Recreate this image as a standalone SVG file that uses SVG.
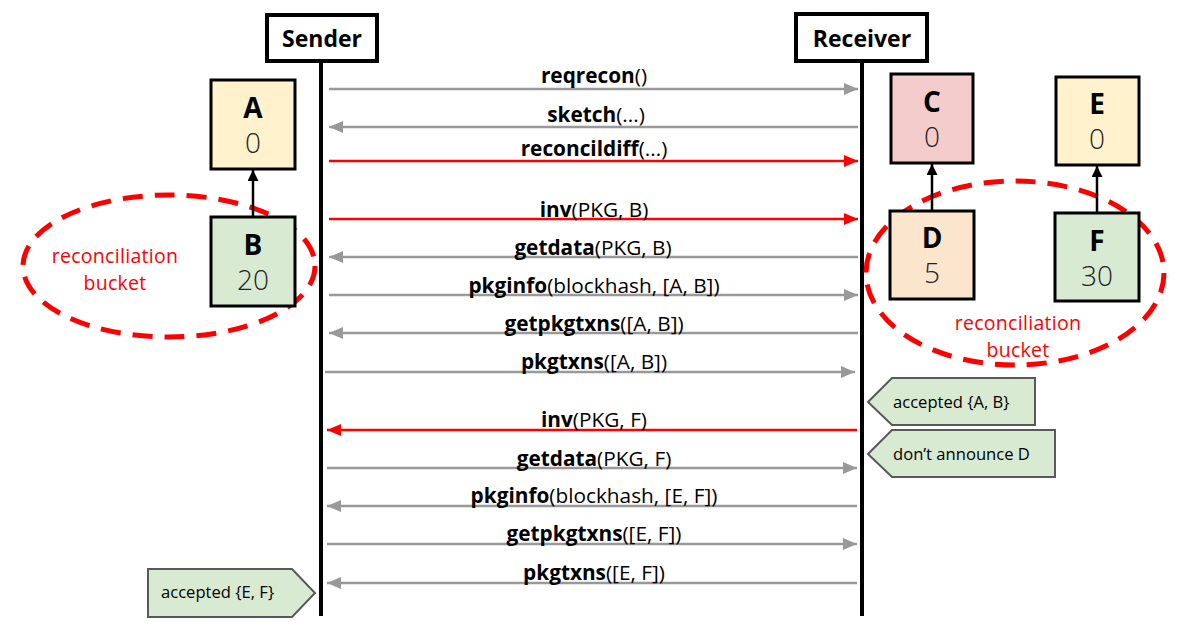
<svg xmlns="http://www.w3.org/2000/svg" width="1199" height="624" viewBox="0 0 1199 624">
<style>
  text { font-family: "Open Sans", "Noto Sans", "Liberation Sans", sans-serif; }
  .actor rect { fill: #fff; stroke: #000; stroke-width: 4; }
  .actor text { font-size: 23px; font-weight: bold; text-anchor: middle; }
  .life { stroke: #000; stroke-width: 4; }
  .node rect { stroke: #000; stroke-width: 3; }
  .nl { font-size: 28px; font-weight: bold; text-anchor: middle; }
  .nv { font-size: 28px; font-weight: 300; text-anchor: middle; fill: #222; }
  .dep { stroke: #000; stroke-width: 2.5; marker-end: url(#hb); }
  .msg { font-size: 20.8px; text-anchor: middle; fill: #000; }
  .msg tspan.b { font-weight: bold; }
  .g { stroke: #999; stroke-width: 2.5; fill: none; marker-end: url(#hg); }
  .r { stroke: #f00; stroke-width: 2.5; fill: none; marker-end: url(#hr); }
  .bucket { fill: none; stroke: #f00; stroke-width: 5; stroke-dasharray: 20 12; }
  .bt { font-size: 19.5px; letter-spacing: 0.3px; fill: #f00; text-anchor: middle; }
  .call path { fill: #d9ead3; stroke: #595959; stroke-width: 2; }
  .call text { font-size: 16.6px; fill: #000; }
</style>
<defs>
  <marker id="hg" viewBox="0 0 14 12" refX="14" refY="6" markerWidth="14" markerHeight="12" markerUnits="userSpaceOnUse" orient="auto">
    <path d="M0,0 L14,6 L0,12 z" fill="#999"/>
  </marker>
  <marker id="hr" viewBox="0 0 14 12" refX="14" refY="6" markerWidth="14" markerHeight="12" markerUnits="userSpaceOnUse" orient="auto">
    <path d="M0,0 L14,6 L0,12 z" fill="#f00"/>
  </marker>
  <marker id="hb" viewBox="0 0 12 12" refX="12" refY="6" markerWidth="12" markerHeight="11" markerUnits="userSpaceOnUse" orient="auto">
    <path d="M0,0 L12,6 L0,12 z" fill="#000"/>
  </marker>
</defs>

<g id="sender" class="actor">
  <rect x="267" y="15" width="110" height="46"/>
  <text x="322" y="47">Sender</text>
</g>
<g id="receiver" class="actor">
  <rect x="796" y="14" width="131" height="47"/>
  <text x="862" y="47">Receiver</text>
</g>
<g id="lifelines">
  <line class="life" x1="321" y1="61" x2="321" y2="616"/>
  <line class="life" x1="862" y1="61" x2="862" y2="616"/>
</g>

<g id="bucket-left">
  <ellipse class="bucket" cx="169" cy="266" rx="146" ry="71"/>
  <text class="bt" x="115" y="263">reconciliation</text>
  <text class="bt" x="115" y="290">bucket</text>
</g>
<g id="bucket-right">
  <ellipse class="bucket" cx="1015" cy="273" rx="149" ry="92"/>
  <text class="bt" x="1018" y="330">reconciliation</text>
  <text class="bt" x="1018" y="357">bucket</text>
</g>

<g id="node-A" class="node">
  <rect x="211" y="80" width="84" height="89" fill="#fff2cc"/>
  <text class="nl" x="253" y="118">A</text>
  <text class="nv" x="253" y="153">0</text>
</g>
<g id="node-B" class="node">
  <rect x="211" y="217" width="84" height="89" fill="#d9ead3"/>
  <text class="nl" x="253" y="255">B</text>
  <text class="nv" x="253" y="290">20</text>
</g>
<g id="node-C" class="node">
  <rect x="891" y="74" width="82" height="89" fill="#f4cccc"/>
  <text class="nl" x="932" y="112">C</text>
  <text class="nv" x="932" y="147">0</text>
</g>
<g id="node-E" class="node">
  <rect x="1056" y="77" width="83" height="88" fill="#fff2cc"/>
  <text class="nl" x="1097" y="114">E</text>
  <text class="nv" x="1097" y="149">0</text>
</g>
<g id="node-D" class="node">
  <rect x="890" y="211" width="84" height="88" fill="#fce5cd"/>
  <text class="nl" x="932" y="248">D</text>
  <text class="nv" x="932" y="283">5</text>
</g>
<g id="node-F" class="node">
  <rect x="1055" y="213" width="84" height="88" fill="#d9ead3"/>
  <text class="nl" x="1097" y="251">F</text>
  <text class="nv" x="1097" y="286">30</text>
</g>

<g id="connectors">
  <line class="dep" x1="253" y1="216" x2="253" y2="170"/>
  <line class="dep" x1="932" y1="210" x2="932" y2="164"/>
  <line class="dep" x1="1097" y1="212" x2="1097" y2="166"/>

  <line class="g" x1="329" y1="89" x2="858" y2="89"/>
  <line class="g" x1="858" y1="127" x2="329" y2="127"/>
  <line class="r" x1="329" y1="161" x2="858" y2="161"/>
  <line class="r" x1="329" y1="219" x2="858" y2="219"/>
  <line class="g" x1="858" y1="257" x2="329" y2="257"/>
  <line class="g" x1="329" y1="295" x2="858" y2="295"/>
  <line class="g" x1="858" y1="333" x2="329" y2="333"/>
  <line class="g" x1="325" y1="372" x2="855" y2="372"/>
  <line class="r" x1="857" y1="430" x2="327" y2="430"/>
  <line class="g" x1="327" y1="468" x2="857" y2="468"/>
  <line class="g" x1="857" y1="506" x2="327" y2="506"/>
  <line class="g" x1="327" y1="544" x2="857" y2="544"/>
  <line class="g" x1="857" y1="583" x2="327" y2="583"/>
</g>

<g id="labels">
  <text class="msg" x="594" y="83"><tspan class="b">reqrecon</tspan>()</text>
  <text class="msg" x="596" y="122"><tspan class="b">sketch</tspan>(...)</text>
  <text class="msg" x="594" y="156"><tspan class="b">reconcildiff</tspan>(...)</text>
  <text class="msg" x="594" y="217"><tspan class="b">inv</tspan>(PKG, B)</text>
  <text class="msg" x="593" y="255"><tspan class="b">getdata</tspan>(PKG, B)</text>
  <text class="msg" x="594" y="293"><tspan class="b">pkginfo</tspan>(blockhash, [A, B])</text>
  <text class="msg" x="594" y="331"><tspan class="b">getpkgtxns</tspan>([A, B])</text>
  <text class="msg" x="594" y="369"><tspan class="b">pkgtxns</tspan>([A, B])</text>
  <text class="msg" x="594" y="427"><tspan class="b">inv</tspan>(PKG, F)</text>
  <text class="msg" x="594" y="466"><tspan class="b">getdata</tspan>(PKG, F)</text>
  <text class="msg" x="594" y="503"><tspan class="b">pkginfo</tspan>(blockhash, [E, F])</text>
  <text class="msg" x="594" y="541"><tspan class="b">getpkgtxns</tspan>([E, F])</text>
  <text class="msg" x="594" y="580"><tspan class="b">pkgtxns</tspan>([E, F])</text>
</g>

<g id="note-accepted-AB" class="call">
  <path d="M868,402 L892,378 L1035,378 L1035,425 L892,425 Z"/>
  <text x="893" y="408">accepted {A, B}</text>
</g>
<g id="note-dont-announce" class="call">
  <path d="M868,454 L892,430 L1055,430 L1055,477 L892,477 Z"/>
  <text x="893" y="460">don’t announce D</text>
</g>
<g id="note-accepted-EF" class="call">
  <path d="M148,569 L292,569 L315,593 L292,617 L148,617 Z"/>
  <text x="161" y="598">accepted {E, F}</text>
</g>
</svg>
